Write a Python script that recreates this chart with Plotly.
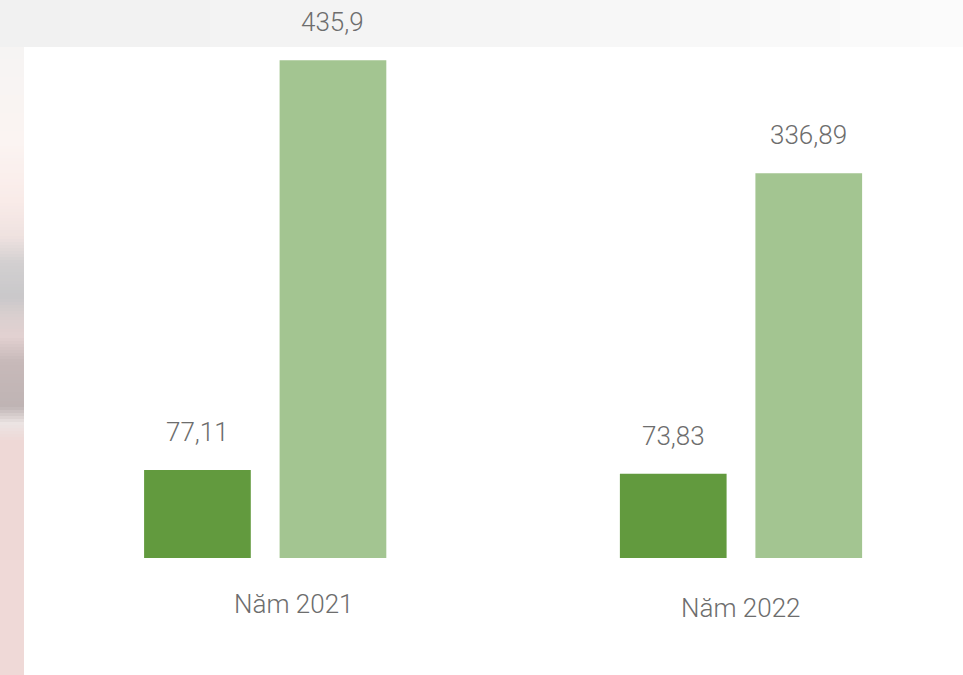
import plotly.graph_objects as go

# Values
categories = ["Năm 2021", "Năm 2022"]
series_a = [77.11, 73.83]      # dark green bars
series_b = [435.9, 336.89]     # light green bars
value_text_a = ["77,11", "73,83"]
value_text_b = ["435,9", "336,89"]

DARK = "#629a3e"
LIGHT = "#a3c591"
TEXT = "#6d6d6d"
FONT = "Roboto"

W, H = 963, 675
PX_PER_CAT = 475.8
CAT0_PX = 265.2
BASE_PX = 558
PX_PER_UNIT = 1.142

fig = go.Figure()
fig.add_trace(go.Bar(x=categories, y=series_a, marker=dict(color=DARK, line=dict(width=0)),
                     hoverinfo="skip", showlegend=False))
fig.add_trace(go.Bar(x=categories, y=series_b, marker=dict(color=LIGHT, line=dict(width=0)),
                     hoverinfo="skip", showlegend=False))

font_lbl = dict(family=FONT, size=26, color=TEXT, weight=300)

annotations = []
bar_dx = [-67.7, 67.7]
for i, cat in enumerate(categories):
    for s, (vals, txts) in enumerate([(series_a, value_text_a), (series_b, value_text_b)]):
        annotations.append(dict(x=cat, y=vals[i], xref="x", yref="y", text=txts[i],
                                showarrow=False, xshift=bar_dx[s], yshift=38,
                                xanchor="center", yanchor="middle", font=font_lbl))

# category captions under each group
label_dx = [29, 0]
label_py = [604, 608]
for i, cat in enumerate(categories):
    annotations.append(dict(x=cat, xref="x", y=1 - label_py[i] / H, yref="paper", text=cat,
                            showarrow=False, xshift=label_dx[i], xanchor="center",
                            yanchor="middle", font=font_lbl))

# blurred backdrop around the white card
def hex2rgb(h):
    h = h.lstrip("#")
    return tuple(int(h[k:k + 2], 16) for k in (0, 2, 4))

def blend(c1, c2, t):
    a, b = hex2rgb(c1), hex2rgb(c2)
    return "rgb(%d,%d,%d)" % tuple(round(a[k] + (b[k] - a[k]) * t) for k in range(3))

shapes = []
# top band, lighter towards the right
top_stops = [(0, "#f1f1f1"), (400, "#f4f4f4"), (700, "#f8f8f8"), (963, "#fbfbfb")]
step = 10
for x0 in range(0, W, step):
    col = top_stops[-1][1]
    for (a, ca), (b, cb) in zip(top_stops[:-1], top_stops[1:]):
        if a <= x0 < b:
            col = blend(ca, cb, (x0 - a) / (b - a))
    shapes.append(dict(type="rect", xref="paper", yref="paper", x0=x0 / W, x1=min(x0 + step + 1, W) / W,
                       y0=1 - 47 / H, y1=1, fillcolor=col, line=dict(width=0), layer="below"))

left_stops = [(47, "#f6f4f3"), (140, "#fbf4f2"), (200, "#f9ebe8"), (235, "#efe2e0"),
              (262, "#d2cfd0"), (295, "#c9c8ca"), (315, "#dacfcf"), (335, "#e2d1d1"),
              (360, "#c7b9b9"), (405, "#bfb4b4"), (422, "#ece4e3"), (440, "#eed8d6"),
              (675, "#efd9d7")]
step = 3
for y0 in range(47, H, step):
    col = left_stops[-1][1]
    for (a, ca), (b, cb) in zip(left_stops[:-1], left_stops[1:]):
        if a <= y0 < b:
            col = blend(ca, cb, (y0 - a) / (b - a))
    shapes.append(dict(type="rect", xref="paper", yref="paper", x0=0, x1=24 / W,
                       y0=1 - min(y0 + step + 1, H) / H, y1=1 - y0 / H,
                       fillcolor=col, line=dict(width=0), layer="below"))

x_lo = -CAT0_PX / PX_PER_CAT
x_hi = (W - CAT0_PX) / PX_PER_CAT
y_lo = -(H - BASE_PX) / PX_PER_UNIT
y_hi = BASE_PX / PX_PER_UNIT

fig.update_layout(
    width=W, height=H,
    margin=dict(l=0, r=0, t=0, b=0),
    paper_bgcolor="white", plot_bgcolor="rgba(0,0,0,0)",
    barmode="group", bargap=0.4304, bargroupgap=0.2125,
    xaxis=dict(range=[x_lo, x_hi], visible=False, fixedrange=True),
    yaxis=dict(range=[y_lo, y_hi], visible=False, fixedrange=True),
    annotations=annotations, shapes=shapes,
    showlegend=False,
)

fig.write_html("out.html", config={"displayModeBar": False})
